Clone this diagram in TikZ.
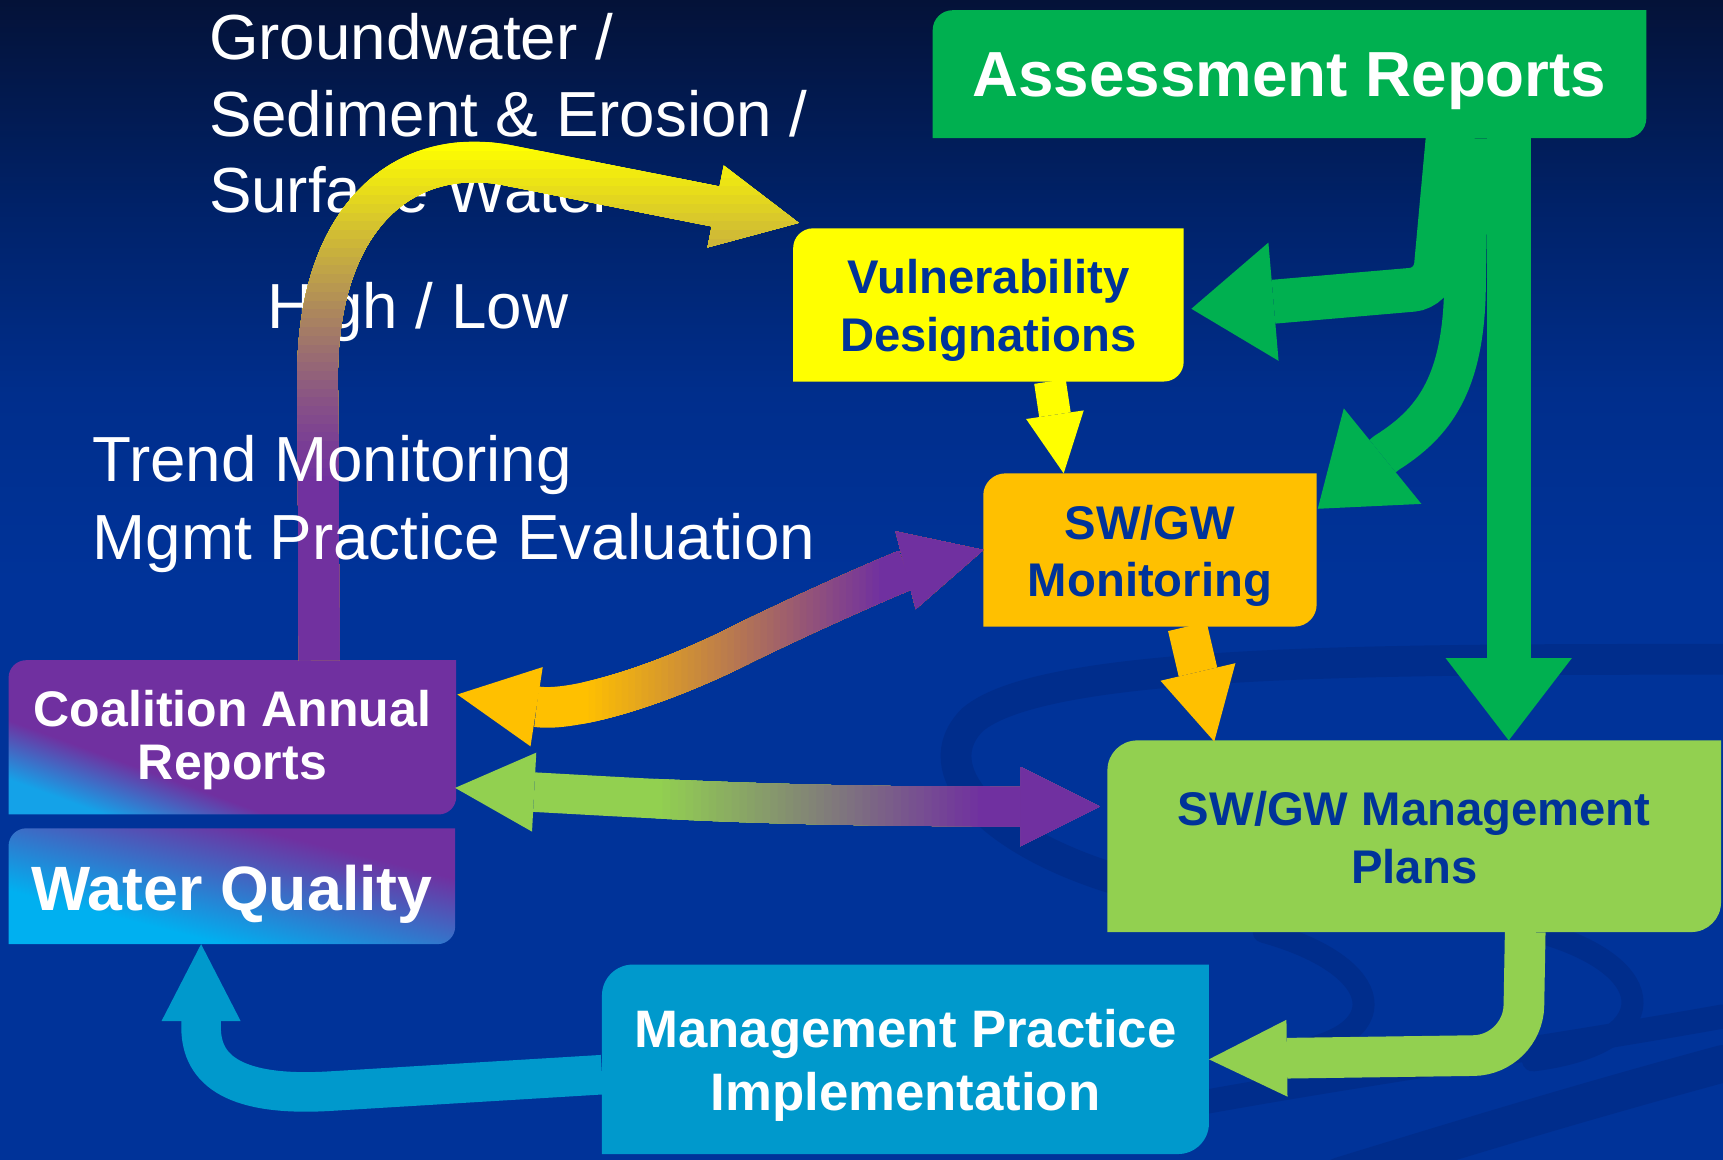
\documentclass[tikz,border=0pt]{standalone}
\usepackage{fontspec}
\setmainfont{Liberation Sans}
\usetikzlibrary{calc,arrows.meta}

\definecolor{qgreen}{HTML}{00B050}
\definecolor{qlime}{HTML}{92D050}
\definecolor{qyellow}{HTML}{FFFF00}
\definecolor{qorange}{HTML}{FFC000}
\definecolor{qpurple}{HTML}{7030A0}
\definecolor{qteal}{HTML}{0099CC}
\definecolor{qcyan}{HTML}{00B0F0}
\definecolor{qsky}{HTML}{14A2E8}
\definecolor{qnavy}{HTML}{003399}
\definecolor{qsea}{RGB}{0,46,140}
\definecolor{qdusk}{RGB}{0,34,105}
\definecolor{qdeep}{RGB}{4,18,56}
\definecolor{qswoosh}{RGB}{0,45,140}

\pgfdeclareverticalshading{bgshade}{100bp}{color(0bp)=(qnavy); color(50bp)=(qnavy); color(58bp)=(qsea); color(66bp)=(qdusk); color(75bp)=(qdeep); color(100bp)=(qdeep)}
\pgfdeclarehorizontalshading{coalshade}{100bp}{color(0bp)=(qsky); color(25bp)=(qsky); color(37bp)=(qpurple); color(100bp)=(qpurple)}
\pgfdeclarehorizontalshading{watershade}{100bp}{color(0bp)=(qcyan); color(34bp)=(qcyan); color(67bp)=(qpurple); color(100bp)=(qpurple)}

\pgfdeclarelayer{bg}
\pgfdeclarelayer{boxes}
\pgfsetlayers{bg,boxes,main}

% box with rounded top-left and bottom-right corners
\newcommand{\diagbox}[3]{%
  \path[#3] (#1.south west) -- ($(#1.north west)+(0,#2)$)
    .. controls ($(#1.north west)+(0,0.45*#2)$) and ($(#1.north west)+(0.45*#2,0)$) .. ($(#1.north west)+(#2,0)$)
    -- (#1.north east) -- ($(#1.south east)+(0,-#2)$)
    .. controls ($(#1.south east)+(0,-0.45*#2)$) and ($(#1.south east)+(-0.45*#2,0)$) .. ($(#1.south east)+(-#2,0)$)
    -- cycle;}

\begin{document}
\begin{tikzpicture}[x=1pt,y=-1pt,
  boxshape/.style 2 args={minimum width=#1pt, minimum height=#2pt, inner sep=0pt},
  boxtext/.style={inner sep=0pt, align=center},
  freetext/.style={inner sep=0pt, align=left, anchor=north west, text=white},
  swoosh/.style={draw=qswoosh, line cap=round},
  blockhead/.style 2 args={arrows={-Triangle[length=#1pt,width=#2pt,line width=0pt]}},
  twohead/.style={arrows={Triangle[length=#1pt,width=#1pt,line width=0pt]-Triangle[length=#1pt,width=#1pt,line width=0pt]}}]

\useasboundingbox (0,0) rectangle (1568,1055);

% Background
\begin{pgfonlayer}{bg}
\shade[shading=bgshade] (0,0) rectangle (1568,1055);
\draw[swoosh, line width=28pt] (1568,600) .. controls (1250,600) and (950,600) .. (885,655) .. controls (840,700) and (900,765) .. (1015,800);
\draw[swoosh, line width=20pt] (1150,848) .. controls (1265,880) and (1270,945) .. (1170,958);
\draw[swoosh, line width=20pt] (1400,848) .. controls (1515,880) and (1515,950) .. (1395,965);
\draw[swoosh, line width=22pt] (1090,1004) .. controls (1250,975) and (1400,955) .. (1568,925);
\draw[swoosh, line width=34pt] (1220,1070) .. controls (1350,1030) and (1450,1000) .. (1568,968);
\end{pgfonlayer}

% Boxes
\node[boxshape={649}{116}] (assess) at (1173.5,67.5) {};
\node[boxshape={355}{139}] (vuln) at (899.5,277.5) {};
\node[boxshape={303}{139}] (monit) at (1046.5,500.5) {};
\node[boxshape={558}{174}] (plans) at (1287,761) {};
\node[boxshape={552}{172}] (impl) at (824,964) {};
\node[boxshape={407}{140}] (coal) at (211.5,671) {};
\node[boxshape={406}{105}] (water) at (211,806.5) {};

\begin{pgfonlayer}{boxes}
\diagbox{assess}{18}{fill=qgreen}
\diagbox{vuln}{18}{fill=qyellow}
\diagbox{monit}{20}{fill=qorange}
\diagbox{plans}{27}{fill=qlime}
\diagbox{impl}{28}{fill=qteal}
\diagbox{coal}{16}{shade, shading=coalshade, shading angle=70}
\diagbox{water}{16}{shade, shading=watershade, shading angle=76}
\end{pgfonlayer}

% Box texts
\node[boxtext, text=white, font=\bfseries\fontsize{58}{62}\selectfont] (assesstext) at ($(assess)+(0,6.5)$) {Assessment Reports};
\node[boxtext, text=qnavy, font=\bfseries\fontsize{43}{53}\selectfont] (vulntext) at ($(vuln)+(0,5)$) {Vulnerability\\Designations};
\node[boxtext, text=qnavy, font=\bfseries\fontsize{43}{52}\selectfont] (monittext) at ($(monit)+(0,5)$) {SW/GW\\Monitoring};
\node[boxtext, text=qnavy, font=\bfseries\fontsize{43}{53}\selectfont] (planstext) at ($(plans)+(0,1)$) {SW/GW Management\\Plans};
\node[boxtext, text=white, font=\bfseries\fontsize{48}{57}\selectfont] (impltext) at ($(impl)+(0,5.5)$) {Management Practice\\Implementation};
\node[boxtext, text=white, font=\bfseries\fontsize{45.5}{49}\selectfont] (coaltext) at ($(coal)+(0,2.5)$) {Coalition Annual\\Reports};
\node[boxtext, text=white, font=\bfseries\fontsize{57}{60}\selectfont] (watertext) at ($(water)+(0,7)$) {Water Quality};

% Labels
\node[freetext, font=\fontsize{58}{69.7}\selectfont] (gwlabel) at (190,12) {Groundwater /\\Sediment \& Erosion /\\Surface Water};
\node[freetext, font=\fontsize{58}{70}\selectfont] (hilabel) at (243,256.5) {High / Low};

% Coalition -> Vulnerability (purple to yellow)
\draw[qyellow, line width=37pt, blockhead={77}{76}] ($(coal.north)+(79,0)$) -- (289,340) .. controls (290,200) and (365,133) .. (460,150) -- ($(vuln.north west)+(5,-5)$);
\foreach \y in {130,138,...,434} {
  \pgfmathsetmacro\f{100*((440-\y)/310)^1.3}
  \begin{scope}
    \clip (0,\y) rectangle (1568,1055);
    \draw[qyellow!\f!qpurple, line width=37pt, blockhead={77}{76}] ($(coal.north)+(79,0)$) -- (289,340) .. controls (290,200) and (365,133) .. (460,150) -- ($(vuln.north west)+(5,-5)$);
  \end{scope}
}

\node[freetext, font=\fontsize{58}{70.5}\selectfont] (trendlabel) at (84,396) {Trend Monitoring\\Mgmt Practice Evaluation};

% Monitoring <-> Coalition (purple / orange)
\draw[qorange, line width=37pt, twohead=73] ($(coal.east)+(1,-39)$) .. controls (520,648) and (600,625) .. (680,584) .. controls (750,550) and (820,520) .. (monit.west);
\foreach \x in {530,536,...,800} {
  \pgfmathsetmacro\f{(800-\x)/2.7}
  \begin{scope}
    \clip (\x,0) rectangle (1568,1055);
    \draw[qorange!\f!qpurple, line width=37pt, twohead=73] ($(coal.east)+(1,-39)$) .. controls (520,648) and (600,625) .. (680,584) .. controls (750,550) and (820,520) .. (monit.west);
  \end{scope}
}

% Management Plans <-> Coalition (purple / green)
\draw[qlime, line width=36pt, twohead=72] ($(coal.east)+(-1,46)$) .. controls (600,727) and (700,734) .. ($(plans.west)+(-7,-27)$);
\foreach \x in {596,603,...,890} {
  \pgfmathsetmacro\f{(890-\x)/2.94}
  \begin{scope}
    \clip (\x,0) rectangle (1568,1055);
    \draw[qlime!\f!qpurple, line width=36pt, twohead=72] ($(coal.east)+(-1,46)$) .. controls (600,727) and (700,734) .. ($(plans.west)+(-7,-27)$);
  \end{scope}
}

% Vulnerability -> Monitoring -> Management Plans
\draw[qyellow, line width=29pt, blockhead={54}{53}] ($(vuln.south)+(56,0)$) -- ($(monit.north)+(-78.5,0)$);
\draw[qorange, line width=36pt, blockhead={65}{70}] ($(monit.south)+(34,0)$) -- ($(plans.north)+(-182,1)$);

% Assessment Reports fan-out
\draw[qgreen, line width=40pt, rounded corners=20pt, blockhead={75}{108}] ($(assess.south)+(144,0)$) -- (1305,262) -- ($(vuln.east)+(7,3.5)$);
\draw[qgreen, line width=38pt, blockhead={76}{112}] ($(assess.south)+(162,0)$) -- (1333,270) .. controls (1330,350) and (1305,385) .. (1262,412) -- ($(monit.east)+(1,-37.5)$);
\draw[qgreen, line width=40pt, blockhead={75}{115}] ($(assess.south)+(199.5,0)$) -- ($(plans.north)+(86,0)$);

% Plans -> Implementation -> Water Quality
\draw[qlime, line width=37pt, rounded corners=45pt, blockhead={71}{70}] ($(plans.south)+(101,0)$) -- (1386,960) -- (impl.east);
\draw[qteal, line width=36pt, blockhead={70}{72}] ($(impl.west)+(0,14)$) -- (300,993) .. controls (215,998) and (183,975) .. (183,935) -- ($(water.south)+(-28,0)$);

\end{tikzpicture}
\end{document}
